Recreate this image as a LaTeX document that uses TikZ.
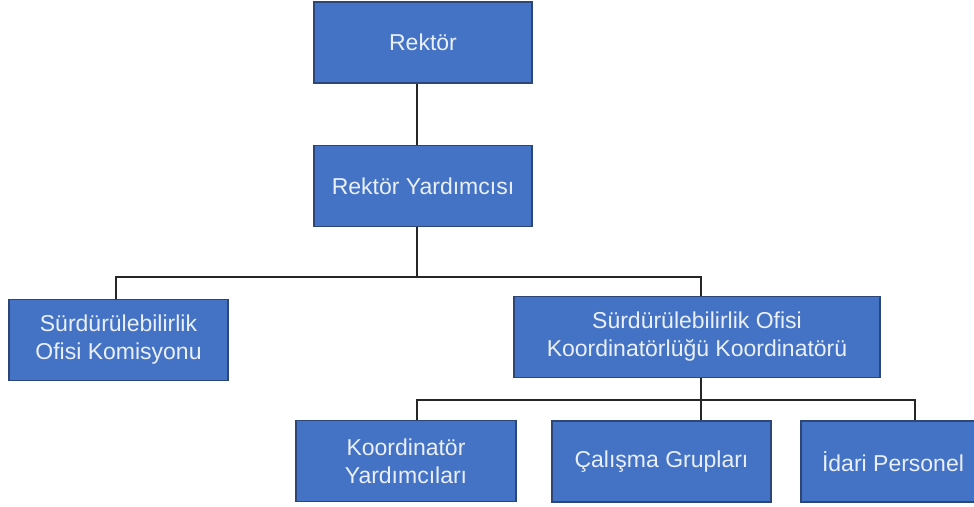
\documentclass[tikz,border=0pt]{standalone}
\usepackage{fontspec}
\setmainfont{Liberation Sans}
\usetikzlibrary{positioning}
\definecolor{kutumavi}{HTML}{4472C4}
\definecolor{kenar}{HTML}{2B4677}
\definecolor{yazi}{HTML}{EAF0FA}

\begin{document}
\begin{tikzpicture}[x=1pt,y=-1pt,
    kutu/.style={rectangle,draw=kenar,line width=1.3pt,fill=kutumavi,text=yazi,
        align=center,minimum height=81pt,font=\fontsize{23}{28}\selectfont},
    hat/.style={line width=1.8pt,draw=black!85}]
            \clip (0,0) rectangle (974,506);
            \node [kutu,minimum width=218pt] (rektor) at (423,42.5) {Rektör};
            \node [kutu,minimum width=218pt] (yard) at (423,186) {Rektör Yardımcısı};
            \node [kutu,minimum width=219pt] (komisyon) at (118.5,340) {Sürdürülebilirlik\\Ofisi Komisyonu};
            \node [kutu,minimum width=366pt] (koord) at (697,337) {Sürdürülebilirlik Ofisi\\Koordinatörlüğü Koordinatörü};
            \node [kutu,minimum width=220pt] (kyard) at (406,461) {Koordinatör\\Yardımcıları};
            \node [kutu,minimum width=219pt] (calisma) at (661.5,461.5) {Çalışma Grupları};
            \node [kutu,minimum width=184pt] (idari) at (893,461.5) {İdari Personel};

            \coordinate (bus1) at (417,277);
            \coordinate (sol1) at (116,277);
            \coordinate (sag1) at (701,277);
            \coordinate (bus2) at (701,400);
            \coordinate (sol2) at (417,400);
            \coordinate (sag2) at (915,400);

            \draw [hat] (rektor.south -| bus1) -- (yard.north -| bus1);
            \draw [hat] (yard.south -| bus1) -- (bus1);
            \draw [hat] (komisyon.north -| sol1) -- (sol1) -- (sag1) -- (koord.north -| sag1);
            \draw [hat] (koord.south -| bus2) -- (calisma.north -| bus2);
            \draw [hat] (kyard.north -| sol2) -- (sol2) -- (sag2) -- (idari.north -| sag2);
        \end{tikzpicture}
\end{document}
